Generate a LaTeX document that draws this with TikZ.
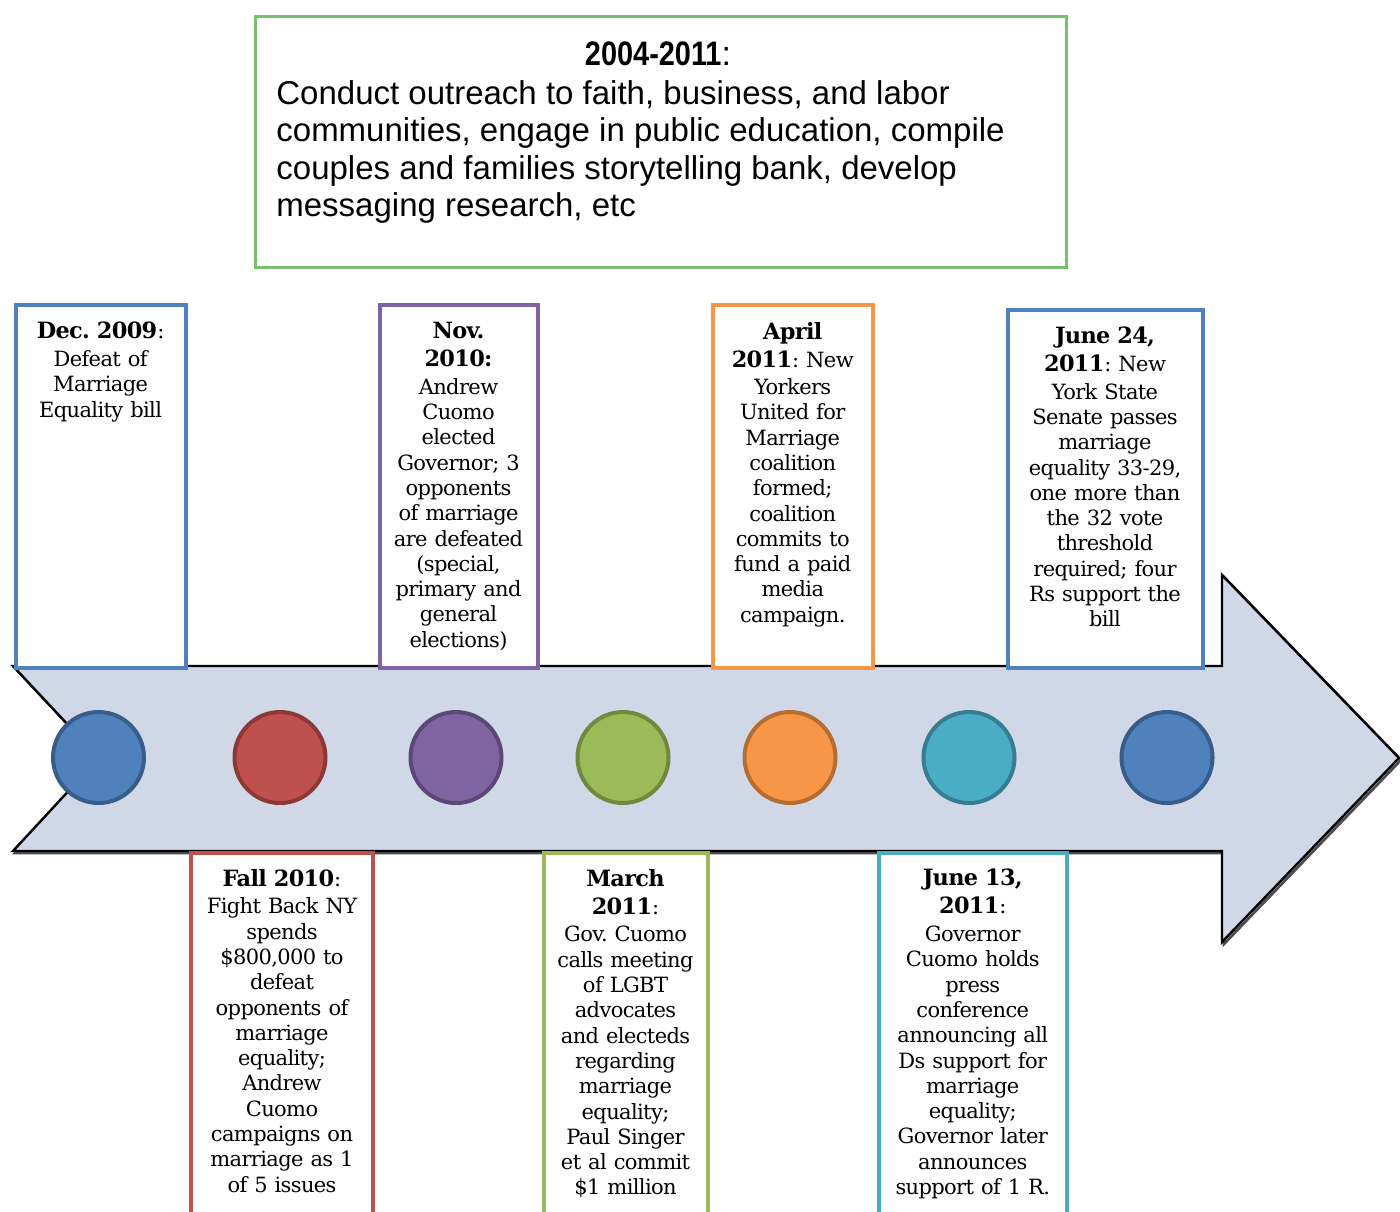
\documentclass[tikz,border=0pt]{standalone}
\usepackage{fontspec}
\usepackage{graphicx}
\setmainfont{DejaVu Serif}[LetterSpace=-3.0, WordSpace=0.6]
\newfontfamily\plainsans{Liberation Sans}
\frenchspacing
\definecolor{arrowfill}{HTML}{D0D8E8}
\definecolor{cblue}{HTML}{4F81BD}
\definecolor{cblueD}{HTML}{385D8A}
\definecolor{cred}{HTML}{C0504D}
\definecolor{credD}{HTML}{8C3836}
\definecolor{cpurple}{HTML}{8064A2}
\definecolor{cpurpleD}{HTML}{5C4776}
\definecolor{cgreen}{HTML}{9BBB59}
\definecolor{cgreenD}{HTML}{71893F}
\definecolor{corange}{HTML}{F79646}
\definecolor{corangeD}{HTML}{B66D31}
\definecolor{cteal}{HTML}{4BACC6}
\definecolor{ctealD}{HTML}{357D91}
\definecolor{topgreen}{RGB}{120,192,110}
\newcommand{\hd}{\bfseries\fontsize{11.2}{12.65}\selectfont}
\begin{document}
\begin{tikzpicture}[x=0.5pt,y=-0.5pt,
  eventbox/.style={draw=#1, line width=2pt, fill=white, rectangle, inner sep=0pt, anchor=north west},
  eventtext/.style={anchor=north, inner sep=0pt, align=center, text width=#1,
    font=\fontsize{10.5}{12.65}\selectfont},
  dot/.style={circle, draw=#1D, fill=#1, line width=2pt, minimum size=45.5pt, inner sep=0pt},
]
\useasboundingbox (0,0) rectangle (1400,1211);
\clip (0,0) rectangle (1400,1211);

% timeline arrow with its shadow
\draw[black!70, line width=1.3pt, line join=miter, shift={(2,2)}]
  (13,666) -- (1222,666) -- (1222,575) -- (1399,758) -- (1222,942) -- (1222,851) -- (13,851) -- (99,758) -- cycle;
\draw[black, fill=arrowfill, line width=1.2pt, line join=miter]
  (13,666) -- (1222,666) -- (1222,575) -- (1399,758) -- (1222,942) -- (1222,851) -- (13,851) -- (99,758) -- cycle;

% milestone dots
\node[dot=cblue]   (d1) at (98.5,757.5) {};
\node[dot=cred]    (d2) at (280,757.5) {};
\node[dot=cpurple] (d3) at (456,757.5) {};
\node[dot=cgreen]  (d4) at (623,757.5) {};
\node[dot=corange] (d5) at (790,757.5) {};
\node[dot=cteal]   (d6) at (969,757.5) {};
\node[dot=cblue]   (d7) at (1167,757.5) {};

% overview box
\node[eventbox=topgreen, line width=1.5pt, minimum width=405.5pt, minimum height=125.5pt] (overview) at (254,15) {};
\node[inner sep=0pt] (overviewhead) at (658,54)
  {\plainsans\fontsize{17}{18.75}\selectfont\scalebox{0.85}[1]{\bfseries 2004-2011}:};
\node[anchor=north west, inner sep=0pt, align=left, font=\plainsans\fontsize{16.5}{18.75}\selectfont] (overviewbody) at (276,80)
  {Conduct outreach to faith, business, and labor\\
   communities, engage in public education, compile\\
   couples and families storytelling bank, develop\\
   messaging research, etc};

% events above the timeline
\node[eventbox=cblue, minimum width=84.9pt, minimum height=181.5pt] (b1) at (13.7,302.5) {};
\node[eventtext=80pt] (t1) at (b1.north) [yshift=-9.6pt]
  {{\hd Dec. 2009}:\\[1.2pt]Defeat of\\Marriage\\Equality bill};

\node[eventbox=cpurple, minimum width=79pt, minimum height=181.5pt] (b3) at (377.5,302.5) {};
\node[eventtext=76pt] (t3) at (b3.north) [yshift=-9.6pt]
  {{\hd Nov.}\\[1.4pt]{\hd 2010:}\\[1.2pt]Andrew\\Cuomo\\elected\\Governor; 3\\opponents\\of marriage\\are defeated\\(special,\\primary and\\general\\elections)};

\node[eventbox=corange, minimum width=79.75pt, minimum height=181.5pt] (b5) at (711,302.5) {};
\node[eventtext=76pt] (t5) at (b5.north) [yshift=-9.6pt]
  {{\hd April}\\[1.4pt]{\hd 2011}: New\\[1pt]Yorkers\\United for\\Marriage\\coalition\\formed;\\coalition\\commits to\\fund a paid\\media\\campaign.};

\node[eventbox=cblue, minimum width=97.5pt, minimum height=179pt] (b7) at (1005.5,307.5) {};
\node[eventtext=94pt] (t7) at (b7.north) [yshift=-9.6pt]
  {{\hd June 24,}\\[1.4pt]{\hd 2011}: New\\[1pt]York State\\Senate passes\\marriage\\equality 33-29,\\one more than\\the 32 vote\\threshold\\required; four\\Rs support the\\bill};

% events below the timeline
\node[eventbox=cred, minimum width=91pt, minimum height=190pt] (b2) at (189,850.5) {};
\node[eventtext=88pt] (t2) at (b2.north) [yshift=-9.1pt]
  {{\hd Fall 2010}:\\[1.2pt]Fight Back NY\\spends\\\$800,000 to\\defeat\\opponents of\\marriage\\equality;\\Andrew\\Cuomo\\campaigns on\\marriage as 1\\of 5 issues};

\node[eventbox=cgreen, minimum width=82pt, minimum height=190pt] (b4) at (541.5,850.5) {};
\node[eventtext=79pt] (t4) at (b4.north) [yshift=-9.1pt]
  {{\hd March}\\[1.4pt]{\hd 2011}:\\[1.2pt]Gov. Cuomo\\calls meeting\\of LGBT\\advocates\\and electeds\\regarding\\marriage\\equality;\\Paul Singer\\et al commit\\\$1 million};

\node[eventbox=cteal, minimum width=93.75pt, minimum height=190pt] (b6) at (877,850.5) {};
\node[eventtext=90pt] (t6) at (b6.north) [yshift=-9.1pt]
  {{\hd June 13,}\\[1.4pt]{\hd 2011}:\\[1.2pt]Governor\\Cuomo holds\\press\\conference\\announcing all\\Ds support for\\marriage\\equality;\\Governor later\\announces\\support of 1 R.};
\end{tikzpicture}
\end{document}
